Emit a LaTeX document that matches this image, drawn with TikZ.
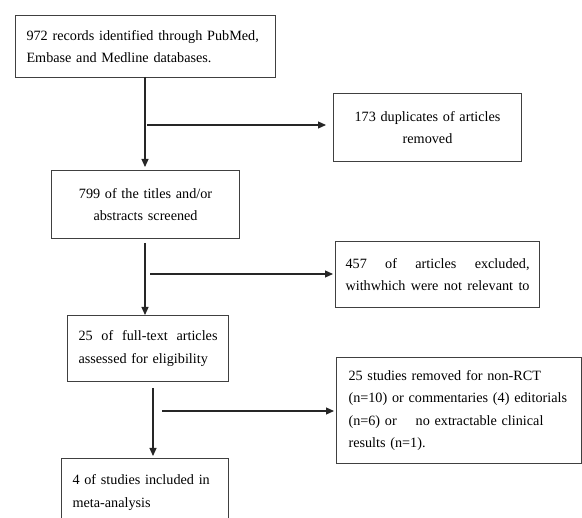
\documentclass[tikz,border=0pt]{standalone}
\usepackage{fontspec}
\setmainfont{Liberation Serif}
\usetikzlibrary{arrows.meta}
\begin{document}
\begin{tikzpicture}[x=1pt,y=-1pt,
  box/.style={draw=black!75,line width=1.1pt,inner ysep=0pt,
    font=\fontsize{14.2}{22.5}\selectfont,anchor=north west},
  conn/.style={draw=black!85,line width=1.1pt,-{Triangle[length=8pt,width=7pt]}}]
\useasboundingbox (0,0) rectangle (582,518);
% boxes
\node[box,inner xsep=11pt,text width=238pt,minimum height=62pt,align=left] (b1) at (15,15)
  {972 records identified through PubMed,\\Embase and Medline databases.};
\node[box,inner xsep=6pt,text width=176pt,minimum height=68pt,align=center] (b2) at (51,170)
  {799 of the titles and/or\\abstracts screened};
\node[box,inner xsep=6pt,text width=176pt,minimum height=68pt,align=center] (d1) at (333,93)
  {173 duplicates of articles\\removed};
\node[box,inner xsep=10pt,text width=184pt,minimum height=66pt,align=left] (d2) at (335,241)
  {\makebox[184pt]{457\hfill of\hfill articles\hfill excluded,}\\\makebox[184pt]{withwhich\hfill were\hfill not\hfill relevant\hfill to}};
\node[box,inner xsep=11pt,text width=139pt,minimum height=66pt,align=left] (b3) at (67,315)
  {\makebox[139pt]{25\hfill of\hfill full-text\hfill articles}\\assessed for eligibility};
\node[box,inner xsep=12pt,text width=221pt,minimum height=106pt,align=left] (d3) at (336,357)
  {25 studies removed for non-RCT\\(n=10) or commentaries (4) editorials\\(n=6) or\ \ \ \ no extractable clinical\\results (n=1).};
\node[box,inner xsep=11pt,text width=145pt,minimum height=68pt,align=left] (b4) at (61,458)
  {4 of studies included in\\meta-analysis};
% connector start points
\coordinate (v1) at (145,77);
\coordinate (h1) at (147,125);
\coordinate (v2) at (145,243);
\coordinate (h2) at (150,274);
\coordinate (v3) at (153,388);
\coordinate (h3) at (162,411);
% connectors
\draw[conn,shorten >=3pt] (v1) -- (v1 |- b2.north);
\draw[conn,shorten >=7pt] (h1) -- (h1 -| d1.west);
\draw[conn] (v2) -- (v2 |- b3.north);
\draw[conn,shorten >=2pt] (h2) -- (h2 -| d2.west);
\draw[conn,shorten >=2pt] (v3) -- (v3 |- b4.north);
\draw[conn,shorten >=2pt] (h3) -- (h3 -| d3.west);
\end{tikzpicture}
\end{document}
